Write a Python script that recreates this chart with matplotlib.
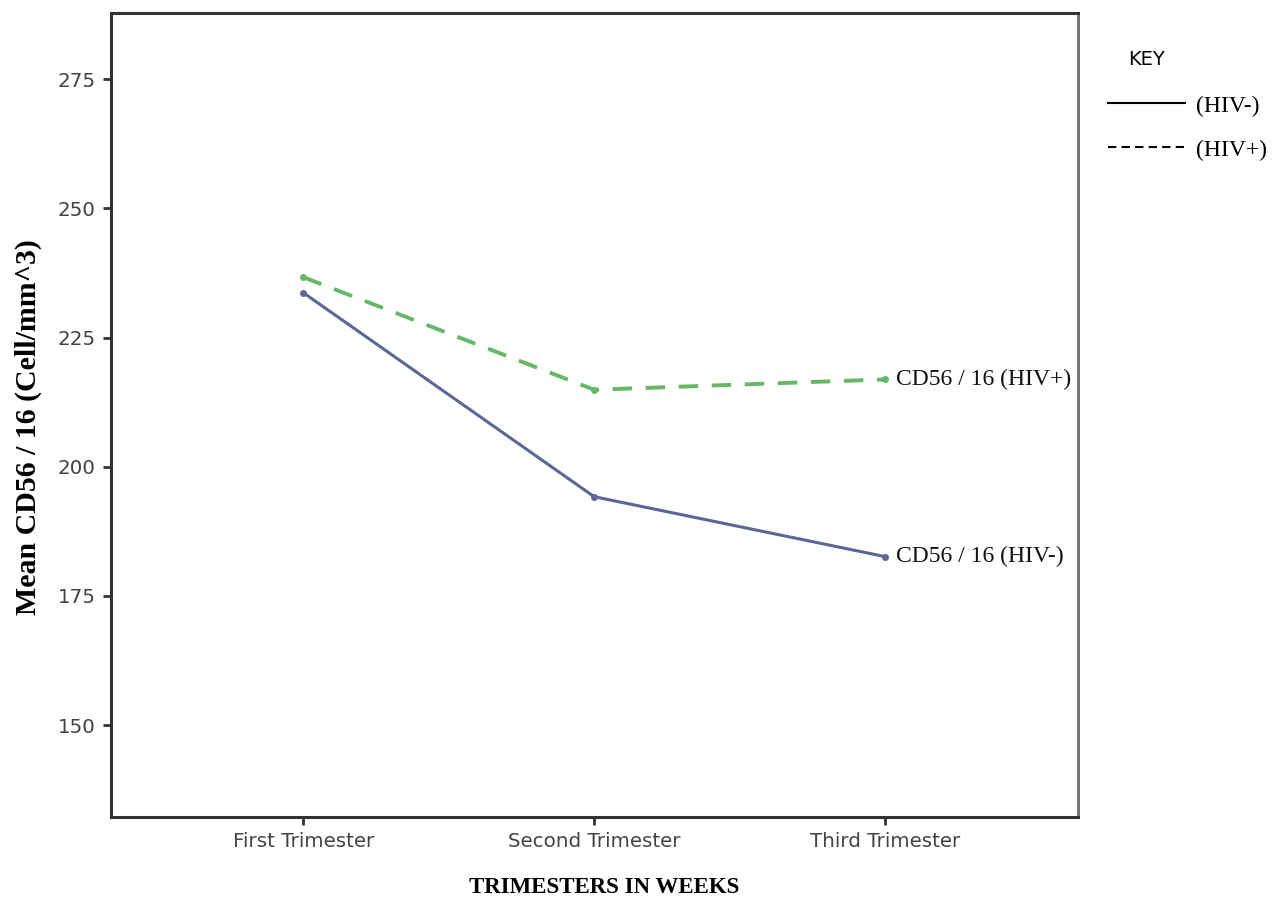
import matplotlib
matplotlib.use("Agg")
import matplotlib.pyplot as plt
from matplotlib.lines import Line2D

# data
trimesters = ["First Trimester", "Second Trimester", "Third Trimester"]
hivNeg = [233.7, 194.2, 182.6]
hivPos = [236.7, 214.9, 216.9]
yTicks = [150, 175, 200, 225, 250, 275]

serif = ["Liberation Serif", "DejaVu Serif"]
narrow = ["Liberation Sans Narrow", "DejaVu Sans"]

fig = plt.figure(figsize=(12.78, 9.01), dpi=100)
ax = fig.add_axes([0.0869, 0.0932, 0.7567, 0.8923])

x = list(range(len(trimesters)))
ax.plot(x, hivNeg, color="#5b6796", lw=2.2, marker="o", ms=4)
ax.plot(x, hivPos, color="#66b868", lw=2.8, ls=(0, (5, 3.5)), marker="o", ms=4)

ax.annotate("CD56 / 16 (HIV+)", (x[-1], hivPos[-1]), xytext=(8, 0),
            textcoords="offset points", va="center", ha="left",
            family=serif, fontsize=17, color="#111111")
ax.annotate("CD56 / 16 (HIV-)", (x[-1], hivNeg[-1]), xytext=(8, 0),
            textcoords="offset points", va="center", ha="left",
            family=serif, fontsize=17, color="#111111")

ax.set_xlim(-0.66, 2.663)
ax.set_ylim(132.2, 287.8)
ax.set_xticks(x)
ax.set_xticklabels(trimesters)
ax.set_yticks(yTicks)
ax.tick_params(labelsize=14.3, labelcolor="#444444", color="#333333",
               length=6, width=2, pad=5)
for s in ax.spines.values():
    s.set_color("#333333")
    s.set_linewidth(2.2)
ax.spines["right"].set_color("#777777")

ax.set_ylabel("Mean CD56 / 16 (Cell/mm^3)", family=serif, fontsize=21.5,
              fontweight="bold", va="center")
ax.yaxis.set_label_coords(-0.086, 0.485)
fig.text(0.473, 0.003, "TRIMESTERS IN WEEKS", family=serif, fontsize=16.5,
         fontweight="bold", ha="center", va="bottom")

# key outside the axes
fig.text(0.897, 0.928, "KEY", family=narrow, fontsize=14, ha="center")
handles = [Line2D([], [], color="black", lw=1.5),
           Line2D([], [], color="black", lw=1.5, ls=(0, (4, 2.5)))]
fig.legend(handles, ["(HIV-)", "(HIV+)"], loc="upper left",
           bbox_to_anchor=(0.85, 0.918), frameon=False,
           prop={"family": serif, "size": 17}, handlelength=3.3,
           labelspacing=0.95, handletextpad=0.45)

fig.savefig("out.png", dpi=100)
